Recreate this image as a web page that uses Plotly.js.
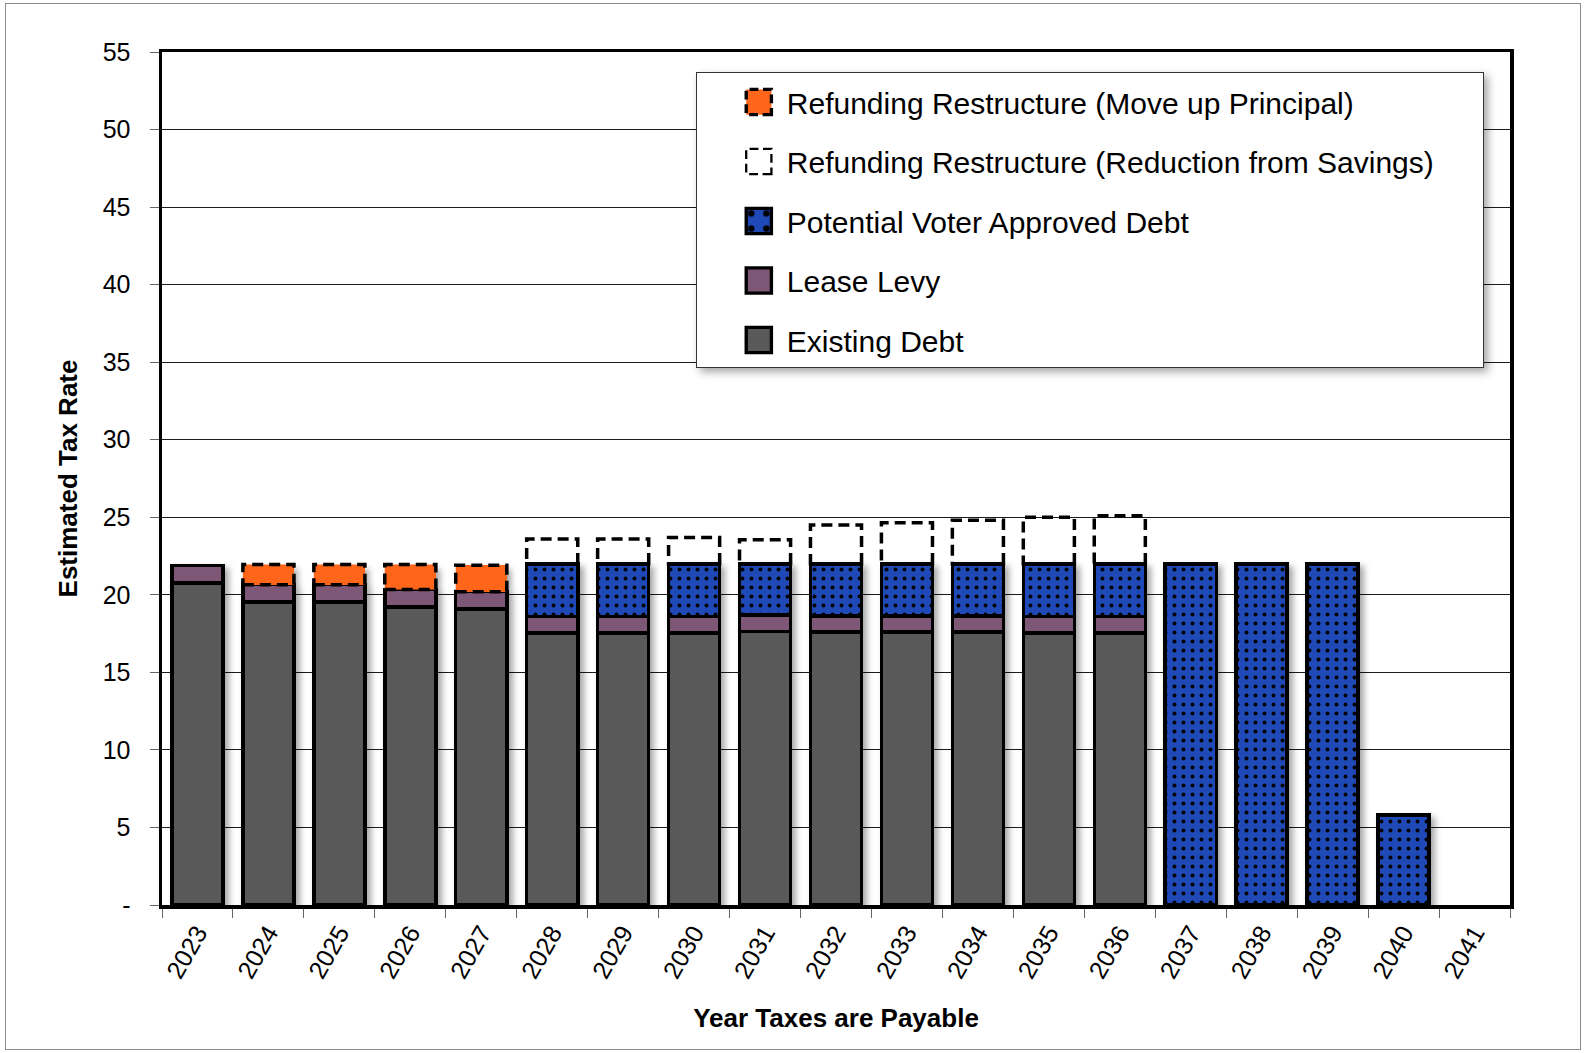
<!DOCTYPE html>
<html><head><meta charset="utf-8">
<script src="https://cdn.plot.ly/plotly-3.0.1.min.js"></script>
<style>
html,body{margin:0;padding:0;background:#fff;}
#chart{position:absolute;left:0;top:0;width:1585px;height:1053px;}
#frame{position:absolute;left:5px;top:3px;width:1574px;height:1045px;border:1.5px solid #8c8c8c;pointer-events:none;}
#chart .barlayer{filter:drop-shadow(4px 4px 3px rgba(0,0,0,0.35));}
#chart .legend .bg{filter:drop-shadow(4px 4px 4px rgba(0,0,0,0.35));}
</style></head>
<body>
<div id="chart"></div>
<div id="frame"></div>
<script>
const years = ['2023','2024','2025','2026','2027','2028','2029','2030','2031','2032','2033','2034','2035','2036','2037','2038','2039','2040','2041'];
const existingDebt = [20.75,19.55,19.55,19.2,19.1,17.55,17.55,17.55,17.65,17.6,17.6,17.6,17.55,17.55,null,null,null,null,null];
const leaseLevy    = [1.15,1.1,1.1,1.15,1.1,1.05,1.05,1.05,1.05,1.05,1.05,1.05,1.05,1.05,null,null,null,null,null];
const voterDebt    = [null,null,null,null,null,3.4,3.4,3.4,3.3,3.35,3.35,3.35,3.4,3.4,22.0,22.0,22.0,5.8,null];
const moveUpPrincipal = [null,1.3,1.3,1.6,1.7,null,null,null,null,null,null,null,null,null,null,null,null,null,null];
const reductionSavings = [null,null,null,null,null,1.6,1.6,1.7,1.55,2.5,2.65,2.8,3.0,3.1,null,null,null,null,null];
const yTickVals = [0,5,10,15,20,25,30,35,40,45,50,55];
const yTickText = ['-','5','10','15','20','25','30','35','40','45','50','55'];

const names = {
  orange: 'Refunding Restructure (Move up Principal)',
  white: 'Refunding Restructure (Reduction from Savings)',
  blue: 'Potential Voter Approved Debt',
  lease: 'Lease Levy',
  existing: 'Existing Debt'
};
const colors = {existing:'#595959', lease:'#7E5676', blue:'#2049B8', orange:'#FF661A'};
const bargap = 0.28;
const halfW = (1 - bargap) / 2;
const FONT = '"Liberation Sans", Arial, sans-serif';
const solidLine = {color:'black', width:3.5};

const traces = [
  {type:'bar', x:years, y:existingDebt, name:names.existing, legendrank:5, legendgroup:'g5',
   marker:{color:colors.existing, line:solidLine}},
  {type:'bar', x:years, y:leaseLevy, name:names.lease, legendrank:4, legendgroup:'g4',
   marker:{color:colors.lease, line:solidLine}},
  {type:'bar', x:years, y:voterDebt, name:names.blue, legendrank:3, legendgroup:'g3',
   marker:{color:colors.blue, line:solidLine,
     pattern:{shape:'.', fgcolor:'black', bgcolor:colors.blue, size:9, solidity:0.15}}},
  {type:'bar', x:years, y:moveUpPrincipal, name:names.orange, showlegend:false, legendgroup:'g1',
   marker:{color:colors.orange, line:{width:0}}},
  {type:'bar', x:years, y:reductionSavings, name:names.white, showlegend:false, legendgroup:'g2',
   marker:{color:'rgba(255,255,255,0)', line:{width:0}}}
];

// dashed outlines built from the data arrays
const shapes = [];
function addDashed(values, key, rank, group) {
  let first = true;
  values.forEach((v, i) => {
    if (v == null) return;
    const base = (existingDebt[i] || 0) + (leaseLevy[i] || 0) + (voterDebt[i] || 0);
    shapes.push({
      type:'rect', xref:'x', yref:'y', layer:'above',
      x0:i - halfW, x1:i + halfW, y0:base, y1:base + v,
      line:{color:'black', width:3.5, dash:'11px,6px'},
      fillcolor: key === 'orange' ? colors.orange : 'rgba(0,0,0,0)',
      showlegend:first, name:names[key], legendrank:rank, legendgroup:group
    });
    first = false;
  });
}
addDashed(moveUpPrincipal, 'orange', 1, 'g1');
addDashed(reductionSavings, 'white', 2, 'g2');

const layout = {
  width:1585, height:1053,
  margin:{l:162, r:75, t:52, b:148},
  paper_bgcolor:'white', plot_bgcolor:'white',
  barmode:'stack', bargap:bargap,
  font:{family:FONT, color:'black', size:25},
  showlegend:true,
  legend:{
    x:0.396, y:0.973, xanchor:'left', yanchor:'top',
    bgcolor:'white', bordercolor:'#333', borderwidth:1,
    font:{family:FONT, size:30, color:'black'},
    traceorder:'grouped', tracegroupgap:17.5, itemwidth:80
  },
  xaxis:{
    type:'category', tickson:'boundaries', ticks:'outside', ticklen:9, tickwidth:1, tickcolor:'#666',
    tickangle:-60, tickfont:{size:25},
    showline:true, linewidth:3.5, linecolor:'black', mirror:true,
    showgrid:false,
    title:{text:'Year Taxes are Payable', font:{size:26, weight:'bold'}, standoff:28}
  },
  yaxis:{
    range:[0,55], tickvals:yTickVals, ticktext:yTickText,
    ticks:'outside', ticklen:9, tickwidth:1, tickcolor:'#666', tickfont:{size:25},
    ticklabelstandoff:14,
    showgrid:true, gridcolor:'#1a1a1a', gridwidth:1, zeroline:false,
    showline:true, linewidth:3.5, linecolor:'black', mirror:true,
    title:{text:'Estimated Tax Rate', font:{size:26, weight:'bold'}, standoff:18}
  },
  shapes:shapes
};

Plotly.newPlot('chart', traces, layout, {staticPlot:true, displayModeBar:false}).then(gd => {
  // legend swatches: enlarge them and give the refunding items dashed borders, as in the reference
  gd.querySelectorAll('.legend .traces').forEach(item => {
    const label = (item.querySelector('.legendtext') || {}).textContent || '';
    item.querySelectorAll('.legendpoints path').forEach(p => {
      const b = p.getBBox();
      if (!b.width) return;
      const cx = b.x + b.width / 2, cy = b.y + b.height / 2;
      p.setAttribute('transform', `translate(62,0) scale(2.1) translate(${-cx},${-cy})`);
      if (label === names.orange) {
        p.style.strokeWidth = '1.6px';
        p.style.strokeDasharray = '4.2,2.2';
        p.style.stroke = 'black';
      } else if (label === names.white) {
        p.style.strokeWidth = '1.1px';
        p.style.strokeDasharray = '4.2,2.2';
        p.style.stroke = 'black';
      } else if (p.style.stroke && p.style.strokeWidth) {
        p.style.strokeWidth = '1.6px';
      }
    });
  });
  const bg = gd.querySelector('.legend rect.bg');
  if (bg) {
    bg.setAttribute('width', parseFloat(bg.getAttribute('width')) + 44);
    bg.setAttribute('y', parseFloat(bg.getAttribute('y') || 0) - 3);
    bg.setAttribute('height', parseFloat(bg.getAttribute('height')) + 4);
  }
});
</script>
</body></html>
